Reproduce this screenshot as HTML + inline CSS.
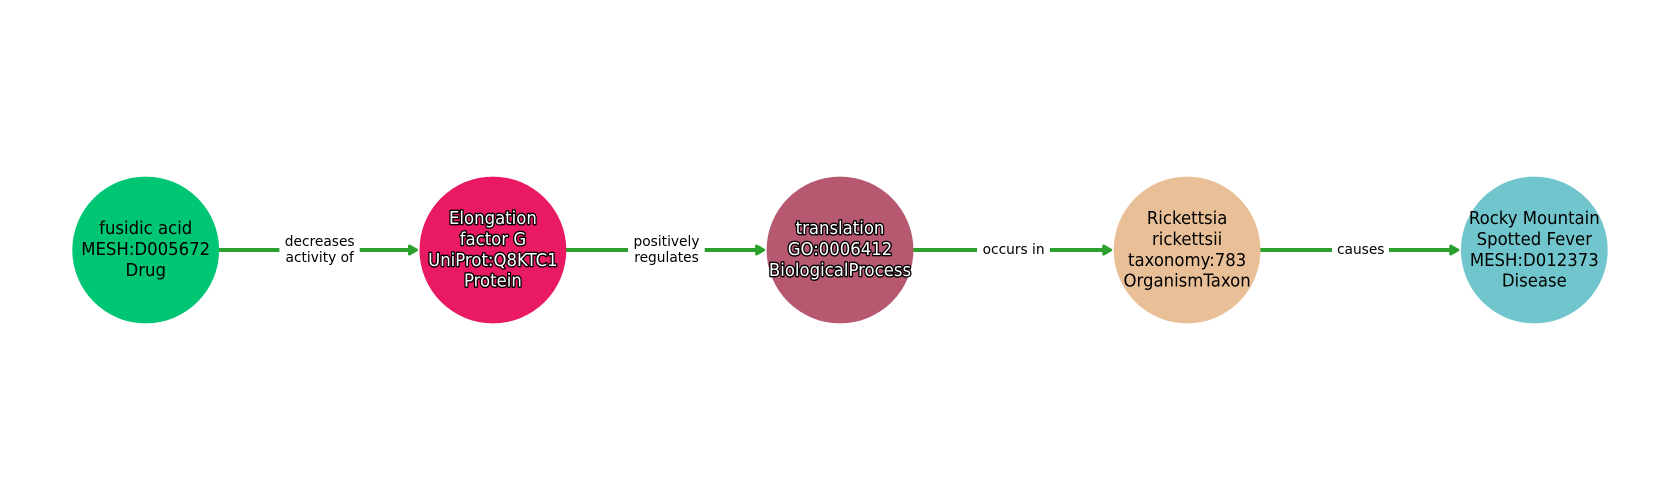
<!DOCTYPE html>
<html><head><meta charset="utf-8"><style>
html,body{margin:0;padding:0;background:#fff}
svg{display:block}
text{font-family:"DejaVu Sans",sans-serif;text-anchor:middle}
.n{font-size:18px;fill:#000}
.h{font-size:18px;fill:#fff;stroke:#000;stroke-width:2.8px;paint-order:stroke;stroke-linejoin:round}
.e{font-size:14.5px;fill:#000}
</style></head><body>
<svg width="1680" height="500" viewBox="0 0 1680 500" xmlns="http://www.w3.org/2000/svg">
<rect width="1680" height="500" fill="#fff"/>
<g fill="#2ca02c" stroke="none">
<rect x="218" y="248" width="61.4" height="4"/><rect x="359.7" y="248" width="50" height="4"/>
<rect x="565" y="248" width="63" height="4"/><rect x="704.7" y="248" width="52" height="4"/>
<rect x="912" y="248" width="65" height="4"/><rect x="1050" y="248" width="54" height="4"/>
<rect x="1259" y="248" width="73" height="4"/><rect x="1389" y="248" width="62" height="4"/>
</g>
<g fill="#2ca02c" stroke="#2ca02c" stroke-width="3" stroke-linejoin="round">
<path d="M409.5 246 L416.5 250 L409.5 254Z"/>
<path d="M756.6 246 L763.6 250 L756.6 254Z"/>
<path d="M1103.7 246 L1110.7 250 L1103.7 254Z"/>
<path d="M1450.8 246 L1457.8 250 L1450.8 254Z"/>
</g>
<circle cx="145.7" cy="250" r="73.4" fill="#00c674"/>
<circle cx="492.9" cy="250" r="73.4" fill="#e91a63"/>
<circle cx="840" cy="250" r="73.4" fill="#b55870"/>
<circle cx="1187.1" cy="250" r="73.4" fill="#e9bf97"/>
<circle cx="1534.3" cy="250" r="73.4" fill="#70c6cc"/>
<text class="n" transform="translate(145.7 234) scale(.918 1)">fusidic acid</text>
<text class="n" transform="translate(145.7 255) scale(.918 1)">MESH:D005672</text>
<text class="n" transform="translate(145.7 276) scale(.918 1)">Drug</text>
<text class="n" transform="translate(1187.1 224) scale(.918 1)">Rickettsia</text>
<text class="n" transform="translate(1187.1 245) scale(.918 1)">rickettsii</text>
<text class="n" transform="translate(1187.1 266) scale(.918 1)">taxonomy:783</text>
<text class="n" transform="translate(1187.1 286.5) scale(.918 1)">OrganismTaxon</text>
<text class="n" transform="translate(1534.3 224) scale(.918 1)">Rocky Mountain</text>
<text class="n" transform="translate(1534.3 245) scale(.918 1)">Spotted Fever</text>
<text class="n" transform="translate(1534.3 266) scale(.918 1)">MESH:D012373</text>
<text class="n" transform="translate(1534.3 286.5) scale(.918 1)">Disease</text>
<text class="h" transform="translate(492.9 224) scale(.918 1)">Elongation</text>
<text class="h" transform="translate(492.9 245) scale(.918 1)">factor G</text>
<text class="h" transform="translate(492.9 266) scale(.918 1)">UniProt:Q8KTC1</text>
<text class="h" transform="translate(492.9 286.5) scale(.918 1)">Protein</text>
<text class="h" transform="translate(840 234) scale(.918 1)">translation</text>
<text class="h" transform="translate(840 255) scale(.918 1)">GO:0006412</text>
<text class="h" transform="translate(840 276) scale(.918 1)">BiologicalProcess</text>
<text class="e" transform="translate(319.7 246) scale(.95 1)">decreases</text>
<text class="e" transform="translate(319.7 262) scale(.95 1)">activity of</text>
<text class="e" transform="translate(666.5 246) scale(.95 1)">positively</text>
<text class="e" transform="translate(666.5 262) scale(.95 1)">regulates</text>
<text class="e" transform="translate(1013.6 254) scale(.95 1)">occurs in</text>
<text class="e" transform="translate(1360.7 254) scale(.95 1)">causes</text>
</svg>
</body></html>
